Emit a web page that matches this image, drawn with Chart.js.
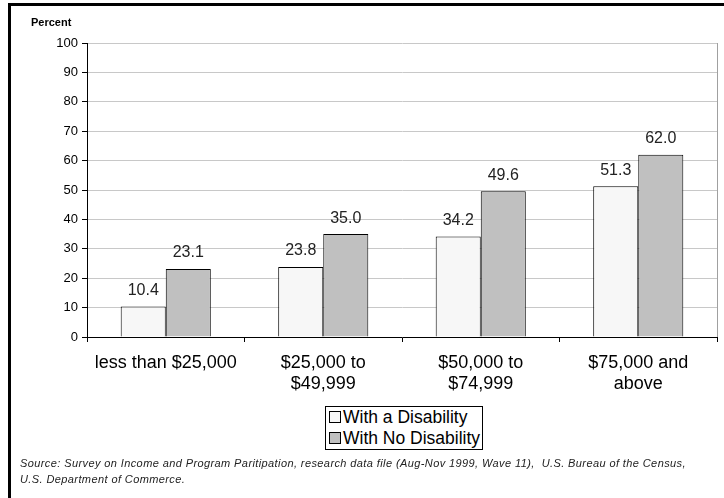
<!DOCTYPE html>
<html>
<head>
<meta charset="utf-8">
<script src="https://cdn.jsdelivr.net/npm/chart.js@4/dist/chart.umd.min.js"></script>
<style>
  html, body { margin: 0; padding: 0; background: #fff; }
  body { width: 724px; height: 498px; position: relative; overflow: hidden; font-family: Arial, "Liberation Sans", sans-serif; }
  #frameTop { position: absolute; left: 8px; top: 3px; width: 716px; height: 3px; background: #000; }
  #frameLeft { position: absolute; left: 8px; top: 3px; width: 3px; height: 495px; background: #000; }
  #wrap { position: absolute; left: 0; top: 0; width: 724px; height: 498px; }
  #ylabel { position: absolute; left: 31px; top: 16px; font-size: 11px; font-weight: bold; color: #000; }
  #legend { position: absolute; left: 325px; top: 406px; width: 150px; border: 1px solid #000; padding: 0 3px 0 3px; background: #fff; }
  #legend div { font-size: 17.5px; line-height: 21px; color: #000; white-space: nowrap; }
  #legend span { display: inline-block; width: 10px; height: 10px; border: 1px solid #000; margin-right: 2px; vertical-align: 0px; }
  #source { position: absolute; left: 20px; top: 455px; font-size: 11px; letter-spacing: 0.4px; font-style: italic; line-height: 16px; color: #222; white-space: nowrap; }
</style>
</head>
<body>
<div id="frameTop"></div>
<div id="frameLeft"></div>
<div id="wrap"><canvas id="chart" width="724" height="498"></canvas></div>
<div id="ylabel">Percent</div>
<div id="legend"></div>
<div id="source">Source: Survey on Income and Program Paritipation, research data file (Aug-Nov 1999, Wave 11),&nbsp; U.S. Bureau of the Census,<br>U.S. Department of Commerce.</div>
<script>
// income groups
var categories = [
  "less than $25,000",
  ["$25,000 to", "$49,999"],
  ["$50,000 to", "$74,999"],
  ["$75,000 and", "above"]
];
var withDisability = [10.4, 23.8, 34.2, 51.3];
var noDisability = [23.1, 35.0, 49.6, 62.0];
var seriesNames = ["With a Disability", "With No Disability"];
var seriesColors = ["#f7f7f7", "#c0c0c0"];
var yTicks = [0, 10, 20, 30, 40, 50, 60, 70, 80, 90, 100];

// value labels above each bar
var valueLabels = {
  id: "valueLabels",
  afterDatasetsDraw: function (chart) {
    var ctx = chart.ctx;
    ctx.save();
    ctx.font = "16px Arial";
    ctx.fillStyle = "#222";
    ctx.textAlign = "center";
    ctx.textBaseline = "middle";
    chart.data.datasets.forEach(function (ds, i) {
      chart.getDatasetMeta(i).data.forEach(function (bar, j) {
        ctx.fillText(ds.data[j].toFixed(1), bar.x, bar.y - 16);
      });
    });
    ctx.restore();
  }
};

// grey right edge of the plot area
var plotEdge = {
  id: "plotEdge",
  beforeDatasetsDraw: function (chart) {
    var a = chart.chartArea, ctx = chart.ctx;
    ctx.save();
    ctx.strokeStyle = "#a0a0a0";
    ctx.lineWidth = 1;
    ctx.beginPath();
    ctx.moveTo(a.right + 0.5, a.top);
    ctx.lineTo(a.right + 0.5, a.bottom);
    ctx.stroke();
    ctx.restore();
  }
};

var chart = new Chart(document.getElementById("chart").getContext("2d"), {
  type: "bar",
  data: {
    labels: categories,
    datasets: [
      {
        label: seriesNames[0],
        data: withDisability,
        backgroundColor: seriesColors[0],
        borderColor: "#000",
        borderWidth: 1,
      },
      {
        label: seriesNames[1],
        data: noDisability,
        backgroundColor: seriesColors[1],
        borderColor: "#000",
        borderWidth: 1,
      },
    ],
  },
  options: {
    responsive: false,
    animation: false,
    layout: { padding: { left: 0, right: 7, top: 43, bottom: 100 } },
    plugins: {
      legend: { display: false },
      tooltip: { enabled: false },
    },
    datasets: {
      bar: { categoryPercentage: 0.572, barPercentage: 1 },
    },
    scales: {
      x: {
        afterFit: function (scale) { scale.height = 61; },
        grid: { offset: true, drawOnChartArea: false, tickLength: 5, tickColor: "#000" },
        border: { color: "#000" },
        ticks: { color: "#000", font: { family: "Arial", size: 18 }, padding: 10, maxRotation: 0, autoSkip: false },
      },
      y: {
        min: 0,
        max: 100,
        afterFit: function (scale) { scale.width = 87; },
        afterBuildTicks: function (scale) {
          scale.ticks = yTicks.map(function (v) { return { value: v }; });
        },
        grid: { color: "#c8c8c8", tickLength: 5, tickColor: "#000" },
        border: { color: "#000" },
        ticks: { color: "#000", font: { family: "Arial", size: 13 }, padding: 4 },
      },
    },
  },
  plugins: [plotEdge, valueLabels],
});

// legend box, stacked like the original
var legend = document.getElementById("legend");
chart.data.datasets.forEach(function (ds) {
  var row = document.createElement("div");
  var box = document.createElement("span");
  box.style.background = ds.backgroundColor;
  row.appendChild(box);
  row.appendChild(document.createTextNode(ds.label));
  legend.appendChild(row);
});
</script>
</body>
</html>
